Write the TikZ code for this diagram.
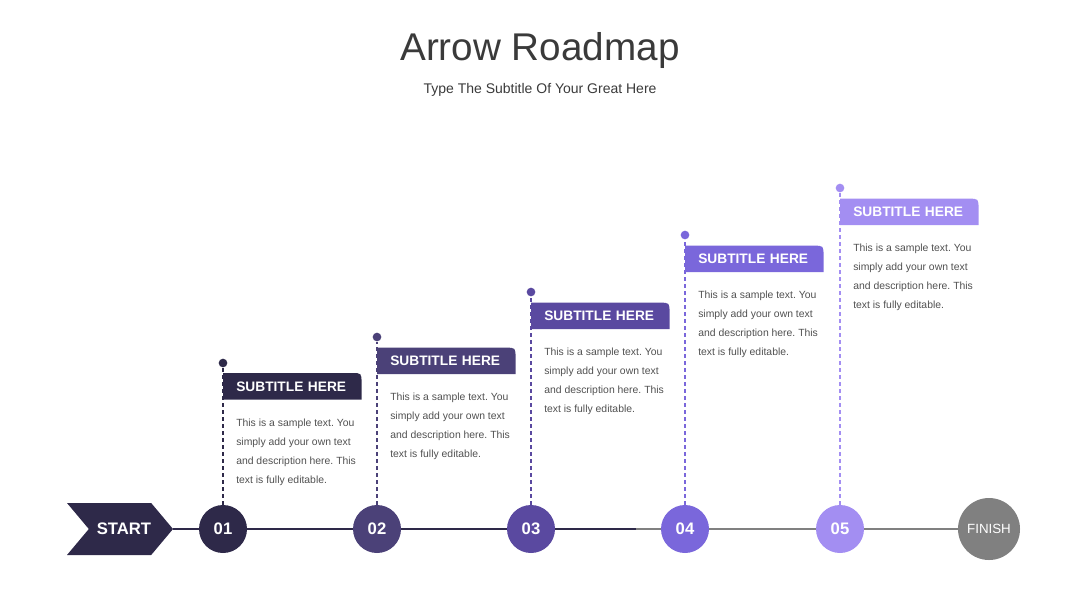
\documentclass[tikz,border=0pt]{standalone}
\usepackage{fontspec}
\setmainfont{Liberation Sans}
\usetikzlibrary{positioning, calc, backgrounds, shapes.symbols}
\definecolor{stepa}{HTML}{2E2949}
\definecolor{stepb}{HTML}{4B4178}
\definecolor{stepc}{HTML}{5A49A0}
\definecolor{stepd}{HTML}{7A67DB}
\definecolor{stepe}{HTML}{A38EF2}
\definecolor{finishgray}{HTML}{808080}
\definecolor{bodytext}{HTML}{505050}
\definecolor{titletext}{HTML}{3A3A3A}
\frenchspacing

\begin{document}
\begin{tikzpicture}[
        x=0.75pt, y=-0.75pt,
        title/.style={text=titletext, font=\fontsize{29}{34}\selectfont},
        subtitle/.style={text=titletext, font=\fontsize{10.5}{13}\selectfont},
        stepnum/.style={circle, fill=#1, minimum size=36pt, inner sep=0pt, text=white, font=\fontsize{12.5}{14}\selectfont\bfseries},
        pin/.style={circle, fill=#1, minimum size=6.5pt, inner sep=0pt},
        tag/.style={minimum width=103.5pt, minimum height=19.5pt, inner xsep=9.75pt, inner ysep=0pt, text width=84pt, align=left, text=white, font=\fontsize{10.3}{12}\selectfont\bfseries},
        desc/.style={inner sep=0pt, align=left, text=bodytext, font=\fontsize{7.8}{14.25}\selectfont},
        road/.style={draw=#1, line width=1.8pt},
        pinline/.style={draw=#1, line width=1.5pt, dash pattern=on 3pt off 2.25pt}
    ]
        \useasboundingbox (0,0) rectangle (1080,608);

        % Nodes
        \node [title] (head) at (540,50) {Arrow Roadmap};
        \node [subtitle] (sub) at (540,90) {Type The Subtitle Of Your Great Here};

        \node [signal, signal from=west, signal to=east, signal pointer angle=100, fill=stepa, minimum width=79.5pt, minimum height=39pt, inner sep=0pt, text=white, font=\fontsize{12.5}{14}\selectfont\bfseries] (start) at (120,529) {\hspace{6pt}START};

        \node [stepnum=stepa] (c1) at (223,529) {01};
        \node [stepnum=stepb] (c2) at (377,529) {02};
        \node [stepnum=stepc] (c3) at (531,529) {03};
        \node [stepnum=stepd] (c4) at (685,529) {04};
        \node [stepnum=stepe] (c5) at (840,529) {05};
        \node [circle, fill=finishgray, minimum size=46.5pt, inner sep=0pt, text=white, font=\fontsize{10}{12}\selectfont] (finish) at (989,529) {FINISH};
        \coordinate (mid) at (636,529);

        \node [pin=stepa] (p1) at (223,363) {};
        \node [pin=stepb] (p2) at (377,337) {};
        \node [pin=stepc] (p3) at (531,292) {};
        \node [pin=stepd] (p4) at (685,235) {};
        \node [pin=stepe] (p5) at (840,188) {};

        \node [tag, below=7.5pt of p1.center, anchor=north west] (t1) {SUBTITLE HERE};
        \node [tag, below=8pt of p2.center, anchor=north west] (t2) {SUBTITLE HERE};
        \node [tag, below=8pt of p3.center, anchor=north west] (t3) {SUBTITLE HERE};
        \node [tag, below=8pt of p4.center, anchor=north west] (t4) {SUBTITLE HERE};
        \node [tag, below=8pt of p5.center, anchor=north west] (t5) {SUBTITLE HERE};

        \node [desc, below right=14pt and 9.75pt of t1.south west] (d1) {This is a sample text. You\\simply add your own text\\and description here. This\\text is fully editable.};
        \node [desc, below right=14pt and 9.75pt of t2.south west] (d2) {This is a sample text. You\\simply add your own text\\and description here. This\\text is fully editable.};
        \node [desc, below right=14pt and 9.75pt of t3.south west] (d3) {This is a sample text. You\\simply add your own text\\and description here. This\\text is fully editable.};
        \node [desc, below right=14pt and 9.75pt of t4.south west] (d4) {This is a sample text. You\\simply add your own text\\and description here. This\\text is fully editable.};
        \node [desc, below right=14pt and 9.75pt of t5.south west] (d5) {This is a sample text. You\\simply add your own text\\and description here. This\\text is fully editable.};

        % Edges
        \begin{scope}[on background layer]
            \draw [road=stepa] (start.east) -- (c1) -- (c2) -- (c3) -- (mid);
            \draw [road=finishgray] (mid) -- (c4) -- (c5) -- (finish);
            \draw [pinline=stepa] (c1) -- (p1);
            \draw [pinline=stepb] (c2) -- (p2);
            \draw [pinline=stepc] (c3) -- (p3);
            \draw [pinline=stepd] (c4) -- (p4);
            \draw [pinline=stepe] (c5) -- (p5);
            \foreach \t/\c in {t1/stepa, t2/stepb, t3/stepc, t4/stepd, t5/stepe}
                \fill [\c] (\t.south west) -- (\t.north west) -- ($(\t.north east)+(-10,0)$)
                    .. controls (\t.north east) .. ($(\t.north east)+(0,10)$) -- (\t.south east) -- cycle;
        \end{scope}

    \end{tikzpicture}
\end{document}
